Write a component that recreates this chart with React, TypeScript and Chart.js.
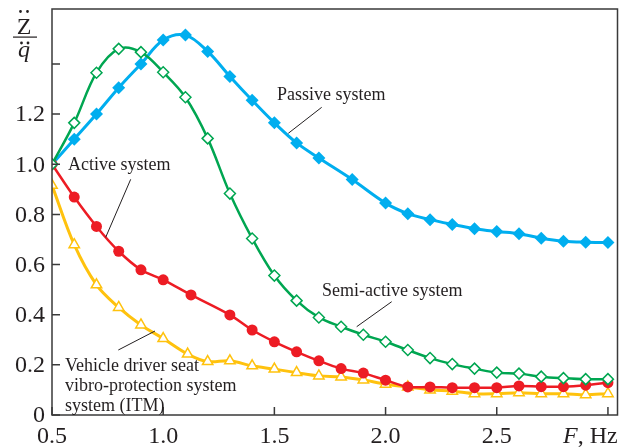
import React, { useEffect, useRef } from "react";
import { Chart, registerables } from "chart.js";
Chart.register(...registerables);

const passiveX = [0.5, 0.6, 0.7, 0.8, 0.9, 1.0, 1.1, 1.2, 1.3, 1.4, 1.5, 1.6, 1.7, 1.85, 2.0, 2.1, 2.2, 2.3, 2.4, 2.5, 2.6, 2.7, 2.8, 2.9, 3.0];
const passiveY = [1.0, 1.1, 1.2, 1.305, 1.4, 1.495, 1.515, 1.45, 1.35, 1.255, 1.165, 1.085, 1.025, 0.939, 0.845, 0.803, 0.779, 0.76, 0.743, 0.732, 0.723, 0.705, 0.693, 0.689, 0.688];

const semiX = [0.5, 0.6, 0.7, 0.8, 0.9, 1.0, 1.1, 1.2, 1.3, 1.4, 1.5, 1.6, 1.7, 1.8, 1.9, 2.0, 2.1, 2.2, 2.3, 2.4, 2.5, 2.6, 2.7, 2.8, 2.9, 3.0];
const semiY = [1.0, 1.165, 1.365, 1.46, 1.447, 1.367, 1.267, 1.103, 0.883, 0.704, 0.556, 0.456, 0.389, 0.352, 0.32, 0.292, 0.259, 0.227, 0.203, 0.185, 0.169, 0.165, 0.153, 0.147, 0.143, 0.143];

const activeX = [0.5, 0.6, 0.7, 0.8, 0.9, 1.0, 1.125, 1.3, 1.4, 1.5, 1.6, 1.7, 1.8, 1.9, 2.0, 2.1, 2.2, 2.3, 2.4, 2.5, 2.6, 2.7, 2.8, 2.9, 3.0];
const activeY = [1.0, 0.869, 0.752, 0.653, 0.579, 0.539, 0.479, 0.399, 0.339, 0.292, 0.252, 0.216, 0.185, 0.167, 0.139, 0.112, 0.112, 0.109, 0.109, 0.109, 0.116, 0.113, 0.113, 0.119, 0.129];

const itmX = [0.5, 0.6, 0.7, 0.8, 0.9, 1.0, 1.11, 1.2, 1.3, 1.4, 1.5, 1.6, 1.7, 1.8, 1.9, 2.0, 2.1, 2.2, 2.3, 2.4, 2.5, 2.6, 2.7, 2.8, 2.9, 3.0];
const itmY = [0.916, 0.679, 0.519, 0.429, 0.359, 0.305, 0.243, 0.213, 0.216, 0.196, 0.183, 0.169, 0.156, 0.152, 0.14, 0.123, 0.112, 0.1, 0.095, 0.085, 0.085, 0.089, 0.085, 0.085, 0.081, 0.085];

const xTicks = [0.5, 1.0, 1.5, 2.0, 2.5, 3.0];
const xTickLabels = ["0.5", "1.0", "1.5", "2.0", "2.5", ""];
const yTicks = [0, 0.2, 0.4, 0.6, 0.8, 1.0, 1.2, 1.4];
const yTickLabels = ["0", "0.2", "0.4", "0.6", "0.8", "1.0", "1.2", ""];

const SERIF = "'Liberation Serif', 'Times New Roman', serif";
const TEXT = "#231f20";

const pts = (xs: number[], ys: number[]) => xs.map((x, i) => ({ x, y: ys[i] }));

const decor = {
  id: "decor",
  afterDraw(chart: any) {
    const { ctx, chartArea: a, scales } = chart;
    const xs = scales.x, ys = scales.y;
    ctx.save();
    // frame
    ctx.strokeStyle = "#3a3a3a";
    ctx.lineWidth = 1.5;
    ctx.strokeRect(a.left, a.top, a.right - a.left, a.bottom - a.top);
    // inward ticks
    ctx.beginPath();
    yTicks.forEach((v) => {
      const y = ys.getPixelForValue(v);
      ctx.moveTo(a.left, y);
      ctx.lineTo(a.left + 8, y);
    });
    xTicks.forEach((v) => {
      const x = xs.getPixelForValue(v);
      ctx.moveTo(x, a.bottom);
      ctx.lineTo(x, a.bottom - 8);
    });
    ctx.stroke();

    // tick labels
    ctx.fillStyle = TEXT;
    ctx.font = `24px ${SERIF}`;
    ctx.textAlign = "right";
    ctx.textBaseline = "middle";
    yTicks.forEach((v, i) => {
      ctx.fillText(yTickLabels[i], a.left - 7, ys.getPixelForValue(v) + 1);
    });
    ctx.textAlign = "center";
    ctx.textBaseline = "alphabetic";
    xTicks.forEach((v, i) => {
      ctx.fillText(xTickLabels[i], xs.getPixelForValue(v), 443);
    });

    // annotations
    ctx.font = `18px ${SERIF}`;
    ctx.textBaseline = "middle";
    ctx.textAlign = "left";
    ctx.fillText("Passive system", 277, 95);
    ctx.fillText("Active system", 68, 165);
    ctx.fillText("Semi-active system", 322, 291);
    ctx.fillText("Vehicle driver seat", 65, 366);
    ctx.fillText("vibro-protection system", 65, 386);
    ctx.fillText("system (ITM)", 65, 406);

    ctx.strokeStyle = TEXT;
    ctx.lineWidth = 1;
    ctx.beginPath();
    ctx.moveTo(321.7, 107.3); ctx.lineTo(288.3, 133.3);
    ctx.moveTo(130.7, 179.3); ctx.lineTo(105.7, 237.3);
    ctx.moveTo(391.7, 301.7); ctx.lineTo(356.7, 326.7);
    ctx.moveTo(118.3, 350); ctx.lineTo(155, 331);
    ctx.stroke();

    // y axis label: Z double-dot over q double-dot
    ctx.textAlign = "center";
    ctx.textBaseline = "alphabetic";
    ctx.font = `24px ${SERIF}`;
    ctx.fillText("Z", 24, 34);
    ctx.beginPath();
    ctx.arc(20.5, 11.5, 1.4, 0, Math.PI * 2);
    ctx.arc(27.5, 11.5, 1.4, 0, Math.PI * 2);
    ctx.fill();
    ctx.fillRect(13, 36.5, 24, 1.2);
    ctx.font = `italic 24px ${SERIF}`;
    ctx.fillText("q", 24, 57);
    ctx.beginPath();
    ctx.arc(21.5, 43, 1.4, 0, Math.PI * 2);
    ctx.arc(28, 43, 1.4, 0, Math.PI * 2);
    ctx.fill();

    // x axis label
    ctx.textAlign = "left";
    ctx.font = `italic 24px ${SERIF}`;
    ctx.fillText("F", 563, 443);
    const fw = ctx.measureText("F").width;
    ctx.font = `24px ${SERIF}`;
    ctx.fillText(", Hz", 563 + fw, 443);
    ctx.restore();
  },
};

export default function App() {
  const ref = useRef<HTMLCanvasElement>(null);
  useEffect(() => {
    document.body.style.margin = "0";
    const chart = new Chart(ref.current!, {
      type: "line",
      data: {
        datasets: [
          {
            label: "Semi-active system",
            data: pts(semiX, semiY),
            borderColor: "#00a651",
            backgroundColor: "#ffffff",
            borderWidth: 2.5,
            pointStyle: "rectRot",
            pointRadius: 5.5,
            pointBorderWidth: 1.5,
            pointBorderColor: "#00a651",
            pointBackgroundColor: "#ffffff",
            tension: 0.35,
            order: 0,
          },
          {
            label: "Active system",
            data: pts(activeX, activeY),
            borderColor: "#ed1c24",
            backgroundColor: "#ed1c24",
            borderWidth: 2.5,
            pointStyle: "circle",
            pointRadius: 5.5,
            pointBorderWidth: 0,
            pointBackgroundColor: "#ed1c24",
            tension: 0.35,
            order: 1,
          },
          {
            label: "ITM",
            data: pts(itmX, itmY),
            borderColor: "#ffc20e",
            backgroundColor: "#ffffff",
            borderWidth: 3,
            pointStyle: "triangle",
            pointRadius: 6,
            pointBorderWidth: 1.5,
            pointBorderColor: "#ffc20e",
            pointBackgroundColor: "#ffffff",
            tension: 0.35,
            order: 2,
          },
          {
            label: "Passive system",
            data: pts(passiveX, passiveY),
            borderColor: "#00aeef",
            backgroundColor: "#00aeef",
            borderWidth: 3,
            pointStyle: "rectRot",
            pointRadius: 6.5,
            pointBorderWidth: 0,
            pointBackgroundColor: "#00aeef",
            tension: 0.35,
            order: 3,
          },
        ],
      },
      options: {
        animation: false,
        responsive: false,
        layout: { padding: { top: 9, right: 5, left: 0, bottom: 0 } },
        plugins: { legend: { display: false }, tooltip: { enabled: false } },
        scales: {
          x: {
            type: "linear",
            min: 0.5,
            max: 3.043,
            grid: { display: false, drawTicks: false },
            border: { display: false },
            afterBuildTicks: (s: any) => {
              s.ticks = xTicks.map((v) => ({ value: v }));
            },
            afterFit: (s: any) => {
              s.height = 32;
            },
            ticks: { display: false },
          },
          y: {
            type: "linear",
            min: 0,
            max: 1.619,
            grid: { display: false, drawTicks: false },
            border: { display: false },
            afterBuildTicks: (s: any) => {
              s.ticks = yTicks.map((v) => ({ value: v }));
            },
            afterFit: (s: any) => {
              s.width = 52;
            },
            ticks: { display: false },
          },
        },
      },
      plugins: [decor],
    } as any);
    return () => chart.destroy();
  }, []);
  return (
    <div style={{ width: 625, height: 447 }}>
      <canvas ref={ref} width={625} height={447} style={{ display: "block" }} />
    </div>
  );
}
